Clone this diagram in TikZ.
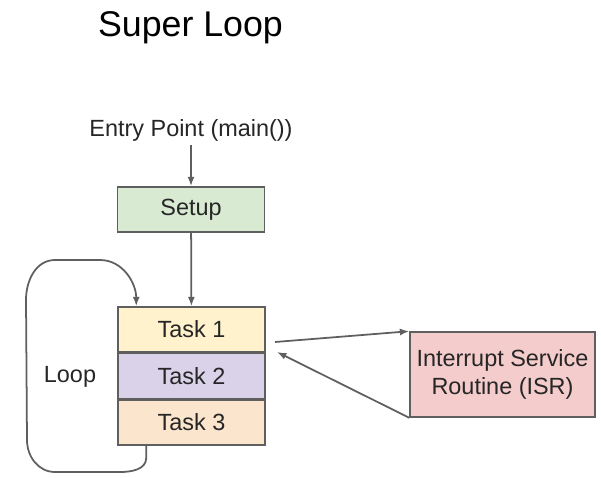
\documentclass[tikz,border=0pt]{standalone}
\usepackage{fontspec}
\setmainfont{Liberation Sans}
\usetikzlibrary{positioning,arrows.meta}
\definecolor{linegray}{HTML}{5F5F5F}
\definecolor{textgray}{HTML}{262626}
\definecolor{setupgreen}{HTML}{D9EAD3}
\definecolor{taskyellow}{HTML}{FFF2CC}
\definecolor{taskpurple}{HTML}{D9D2E9}
\definecolor{taskorange}{HTML}{FCE5CD}
\definecolor{isrred}{HTML}{F4CCCC}
\tikzset{
    box/.style={draw=linegray, line width=1.3pt, text=textgray, align=center,
        minimum width=4.41cm, minimum height=1.35cm, inner sep=0pt,
        font=\fontsize{20}{24}\selectfont},
    flow/.style={draw=linegray, line width=1.5pt, ->},
}
\begin{document}
\begin{tikzpicture}[>={Latex[length=8pt,width=6pt]}, x=0.03cm, y=-0.03cm, node distance=0pt]
\useasboundingbox (0,0) rectangle (601,477);

\node[anchor=base, text=black, font=\fontsize{30.5}{36}\selectfont] (title) at (190.5,36) {Super Loop};
\node[anchor=base, text=textgray, font=\fontsize{20}{24}\selectfont] (entry) at (191,136) {Entry Point (main())};

\node[box, fill=setupgreen] (setup) at (191,209.5) {Setup};

% the three tasks of the loop
\node[box, fill=taskyellow] (task1) at (191.5,329.5) {Task 1};
\node[box, fill=taskpurple, below=of task1] (task2) {Task 2};
\node[box, fill=taskorange, below=of task2] (task3) {Task 3};

\node[text=textgray, font=\fontsize{20}{24}\selectfont] (loop) at (70,377) {Loop};

\node[box, fill=isrred, minimum width=5.55cm, minimum height=2.55cm] (isr) at (502.5,374.5) {Interrupt Service\\Routine (ISR)};

\coordinate (isrin) at (275,342);
\coordinate (isrout) at (277,352);

\draw[flow] (entry) -- (setup);
\draw[flow] (setup) -- (task1);
\draw[flow] ([xshift=0.87cm]task3.south west) -- ++(0,12)
    to[out=-90,in=0] (120,472) -- (55,472)
    to[out=180,in=-90] (27,440) -- (26,300)
    to[out=90,in=180] (55,260) -- (100,260)
    to[out=0,in=90] ([xshift=0.57cm]task1.north west);
\draw[flow] (isrin) -- (isr.north west);
\draw[flow] (isr.south west) -- (isrout);
\end{tikzpicture}
\end{document}
